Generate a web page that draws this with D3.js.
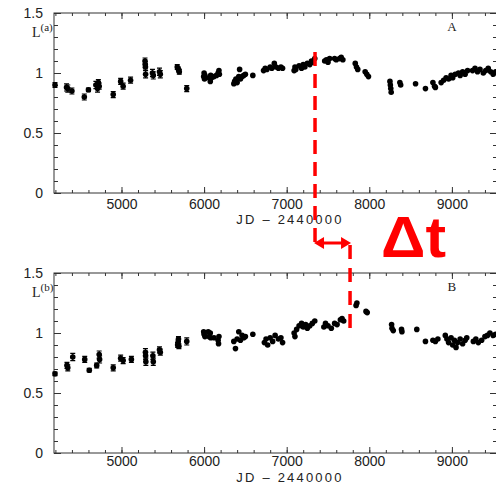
<!DOCTYPE html>
<html>
  <head>
    <meta charset="utf-8">
    <style>
      body { margin: 0; background: #fff; }
      svg text { font-family: "Liberation Sans", Arial, sans-serif; fill: #222; }
      .frame { fill: none; stroke: #333; stroke-width: 1; }
      .tick line { stroke: #333; }
      .serif { font-family: "Liberation Serif", "Times New Roman", serif; }
    </style>
    <script src="https://d3js.org/d3.v7.min.js"></script>
  </head>
  <body>
    <svg width="496" height="485"></svg>

    <script>
      // light curve of image A (Julian date - 2440000, relative luminosity)
      var jdA = [4195, 4335, 4350, 4400, 4550, 4600, 4690, 4710, 4720, 4730, 4900, 4990, 5020, 5110, 5285, 5288, 5290, 5292, 5375, 5385, 5460, 5470, 5675, 5690, 5700, 5790,
        5995, 6000, 6005, 6010, 6060, 6075, 6080, 6090, 6120, 6150, 6170, 6180, 6185,
        6360, 6370, 6385, 6400, 6420, 6430, 6440, 6460, 6480, 6500, 6590,
        6720, 6740, 6760, 6800, 6820, 6850, 6870, 6900, 6930, 6950,
        7090, 7100, 7110, 7150, 7180, 7200, 7220, 7250, 7280, 7300, 7320, 7340,
        7460, 7480, 7500, 7520, 7580, 7600, 7640, 7660, 7680,
        7830, 7845, 7860, 7950, 7970, 7990,
        8250, 8255, 8260, 8265, 8370, 8380, 8560, 8680,
        8770, 8790, 8800, 8870, 8900, 8930, 8960, 8990, 9010, 9040,
        9080, 9100, 9130, 9160, 9190,
        9250, 9280, 9310, 9340, 9380, 9410, 9440, 9470, 9500, 9530];
      var lumA = [0.90, 0.88, 0.87, 0.85, 0.80, 0.86, 0.90, 0.87, 0.92, 0.89, 0.82, 0.93, 0.89, 0.94, 1.10, 1.07, 1.05, 0.99, 1.00, 0.98, 1.01, 0.99, 1.05, 1.03, 1.01, 0.87,
        0.97, 1.00, 0.95, 0.98, 0.96, 0.93, 0.98, 0.96, 0.97, 0.98, 1.00, 1.02, 0.99,
        0.91, 0.93, 0.95, 0.92, 0.97, 1.03, 0.95, 0.97, 0.98, 0.99, 0.98,
        1.02, 1.04, 1.03, 1.05, 1.04, 1.08, 1.05, 1.04, 1.05, 1.04,
        1.02, 1.05, 1.03, 1.06, 1.04, 1.07, 1.05, 1.08, 1.07, 1.10, 1.09, 1.12,
        1.10, 1.11, 1.09, 1.12, 1.12, 1.11, 1.12, 1.13, 1.11,
        1.08, 1.05, 1.03, 1.01, 0.99, 0.97,
        0.93, 0.90, 0.87, 0.84, 0.92, 0.90, 0.91, 0.87,
        0.92, 0.89, 0.88, 0.92, 0.94, 0.96, 0.95, 0.98, 0.96, 0.99,
        1.00, 0.98, 1.01, 0.99, 1.02,
        1.02, 1.04, 1.01, 1.03, 1.00, 1.02, 1.04, 1.01, 0.99, 1.01];
      // error bars of the early photographic points
      var errA = [0.02, 0.03, 0.03, 0.025, 0.025, 0.015, 0.03, 0.03, 0.025, 0.025, 0.025, 0.025, 0.025, 0.025, 0.025, 0.025, 0.025, 0.03, 0.03, 0.03, 0.03, 0.03, 0.02, 0.02, 0.02, 0.025];

      // light curve of image B
      var jdB = [4195, 4340, 4350, 4410, 4555, 4610, 4700, 4730, 4735, 4900, 4990, 5020, 5120, 5290, 5292, 5295, 5380, 5385, 5460, 5470, 5680, 5685, 5690, 5695, 5790,
        5995, 6000, 6010, 6050, 6060, 6075, 6080, 6120, 6170, 6175, 6180,
        6360, 6380, 6400, 6420, 6440, 6460, 6480, 6500, 6590,
        6730, 6750, 6770, 6800, 6830, 6860, 6900, 6930, 6950,
        7090, 7100, 7120, 7150, 7180, 7200, 7230, 7250, 7280, 7310, 7340,
        7450, 7470, 7500, 7540, 7580, 7610, 7650, 7670, 7690,
        7840, 7850, 7960, 7975,
        8270, 8275, 8290, 8390, 8395, 8575, 8680,
        8770, 8800, 8830,
        8920, 8940, 8960, 8990, 9010, 9030, 9050, 9070, 9100, 9130, 9160, 9180,
        9260, 9290, 9320, 9360, 9400, 9430, 9460, 9500, 9530];
      var lumB = [0.66, 0.73, 0.71, 0.80, 0.78, 0.69, 0.73, 0.82, 0.78, 0.71, 0.79, 0.77, 0.78, 0.84, 0.81, 0.76, 0.81, 0.76, 0.86, 0.84, 0.90, 0.92, 0.95, 0.89, 0.93,
        1.01, 0.99, 0.97, 1.01, 0.97, 1.00, 0.96, 0.96, 0.94, 0.91, 0.97,
        0.93, 0.87, 0.95, 1.01, 0.94, 0.98, 0.96, 0.97, 0.99,
        0.92, 0.95, 0.90, 0.96, 0.93, 0.98, 0.95, 0.96, 0.92,
        1.00, 0.97, 1.03, 1.06, 1.08, 1.05, 1.07, 1.04, 1.06, 1.08, 1.10,
        1.05, 1.08, 1.06, 1.04, 1.08, 1.07, 1.11, 1.12, 1.10,
        1.23, 1.25, 1.18, 1.17,
        1.07, 1.04, 1.02, 1.03, 1.01, 1.03, 0.93,
        0.94, 0.93, 0.95,
        0.98, 0.95, 0.92, 0.96, 0.90, 0.94, 0.88, 0.92, 0.95, 0.91, 0.94, 0.96,
        0.93, 0.95, 0.92, 0.94, 0.97, 0.98, 1.00, 0.98, 0.99];
      var errB = [0.015, 0.025, 0.025, 0.03, 0.025, 0.015, 0.02, 0.03, 0.03, 0.025, 0.025, 0.025, 0.025, 0.03, 0.03, 0.03, 0.03, 0.03, 0.025, 0.025, 0.02, 0.02, 0.02, 0.02, 0.03];

      var xTicks = [5000, 6000, 7000, 8000, 9000];
      var yTicks = [0, 0.5, 1, 1.5];
      var xLabel = "JD \u2013 2440000";

      // same feature seen in A and then in B, time delay between them
      var lagStart = 7343, lagEnd = 7767;

      var svg = d3.select("svg"),
        left = 54,
        width = 443,
        height = 180;

      var x = d3.scaleLinear().domain([4183, 9546]).range([0, width]);
      var y = d3.scaleLinear().domain([0, 1.5]).range([height, 0]);

      var xMinor = d3.range(4200, 9600, 200);
      var yMinor = d3.range(0, 1.51, 0.1);

      function panel(top, jd, lum, err, sup, tag, labelPad, titleGap) {
        var g = svg.append("g").attr("transform", "translate(" + left + "," + top + ")");

        // minor ticks on all four sides, pointing inward
        g.append("g").attr("transform", "translate(0," + height + ")")
          .call(d3.axisBottom(x).tickValues(xMinor).tickSize(-3).tickFormat(""));
        g.append("g").call(d3.axisTop(x).tickValues(xMinor).tickSize(-3).tickFormat(""));
        g.append("g").call(d3.axisLeft(y).tickValues(yMinor).tickSize(-4).tickFormat(""));
        g.append("g").attr("transform", "translate(" + width + ",0)")
          .call(d3.axisRight(y).tickValues(yMinor).tickSize(-4).tickFormat(""));

        // major ticks with labels
        g.append("g").attr("transform", "translate(0," + height + ")")
          .call(d3.axisBottom(x).tickValues(xTicks).tickSize(-6).tickPadding(labelPad).tickFormat(d3.format("d")))
          .attr("font-size", 14);
        g.append("g").call(d3.axisTop(x).tickValues(xTicks).tickSize(-6).tickFormat(""));
        g.append("g")
          .call(d3.axisLeft(y).tickValues(yTicks).tickSize(-7).tickPadding(11).tickFormat(function (d) { return d; }))
          .attr("font-size", 14);
        g.append("g").attr("transform", "translate(" + width + ",0)")
          .call(d3.axisRight(y).tickValues(yTicks).tickSize(-7).tickFormat(""));

        g.selectAll(".domain").remove();
        g.selectAll(".tick text").attr("fill", "#222");

        g.append("rect").attr("class", "frame")
          .attr("width", width).attr("height", height);

        var pts = jd.map(function (d, i) { return { jd: d, l: lum[i], e: err[i] || 0 }; });

        g.selectAll(".err")
          .data(pts.filter(function (d) { return d.e > 0; }))
          .enter().append("path")
          .attr("class", "err")
          .attr("stroke", "#000")
          .attr("stroke-width", 1.2)
          .attr("fill", "none")
          .attr("d", function (d) {
            var cx = x(d.jd), y0 = y(d.l - d.e), y1 = y(d.l + d.e);
            return "M" + cx + "," + y0 + "V" + y1 +
              "M" + (cx - 2.5) + "," + y0 + "H" + (cx + 2.5) +
              "M" + (cx - 2.5) + "," + y1 + "H" + (cx + 2.5);
          });

        g.selectAll(".pt")
          .data(pts)
          .enter().append("circle")
          .attr("class", "pt")
          .attr("cx", function (d) { return x(d.jd); })
          .attr("cy", function (d) { return y(d.l); })
          .attr("r", 2.8)
          .attr("fill", "#000");

        // L^(a) / L^(b)
        var lab = g.append("text").attr("class", "serif")
          .attr("x", -22).attr("y", 24).attr("font-size", 14);
        lab.append("tspan").text("L");
        lab.append("tspan").attr("font-size", 11).attr("dy", -6).text("(" + sup + ")");

        g.append("text").attr("class", "serif")
          .attr("x", x(9000)).attr("y", 18)
          .attr("text-anchor", "middle").attr("font-size", 13)
          .text(tag);

        g.append("text")
          .attr("x", 236).attr("y", height + titleGap)
          .attr("text-anchor", "middle").attr("font-size", 13)
          .attr("letter-spacing", 2.2)
          .text(xLabel);

        return g;
      }

      var topA = 13, topB = 273;
      panel(topA, jdA, lumA, errA, "a", "A", 6, 31);
      panel(topB, jdB, lumB, errB, "b", "B", 3.5, 28.5);

      // time-delay annotation
      var red = "#ff0000";
      var xs = left + x(lagStart), xe = left + x(lagEnd), ay = 243;
      var ann = svg.append("g");

      ann.append("line")
        .attr("x1", xs).attr("x2", xs).attr("y1", 52).attr("y2", ay)
        .attr("stroke", red).attr("stroke-width", 3.5).attr("stroke-dasharray", "14,8");
      ann.append("line")
        .attr("x1", xe).attr("x2", xe).attr("y1", 245).attr("y2", 328)
        .attr("stroke", red).attr("stroke-width", 3.5).attr("stroke-dasharray", "14,9");

      ann.append("line")
        .attr("x1", xs + 6).attr("x2", xe - 6).attr("y1", ay).attr("y2", ay)
        .attr("stroke", red).attr("stroke-width", 3);
      ann.append("path")
        .attr("fill", red)
        .attr("d", "M" + (xs - 1) + "," + ay + "l10,-6v12z" +
          "M" + (xe + 1) + "," + ay + "l-10,-6v12z");

      ann.append("text")
        .attr("x", 381).attr("y", 257)
        .attr("font-family", "'DejaVu Sans', sans-serif")
        .attr("font-weight", "bold")
        .attr("font-size", 57)
        .attr("textLength", 65)
        .attr("lengthAdjust", "spacingAndGlyphs")
        .style("fill", red)
        .text("\u0394t");
    </script>
  </body>
</html>
